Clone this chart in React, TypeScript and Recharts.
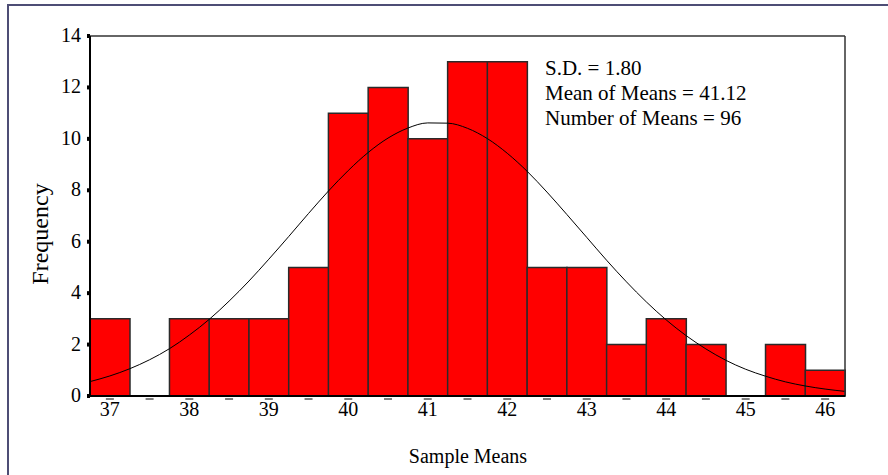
import React from 'react';
import { ComposedChart, Bar, Line, XAxis, YAxis, ReferenceLine } from 'recharts';

const binCenters = [37, 37.5, 38, 38.5, 39, 39.5, 40, 40.5, 41, 41.5, 42, 42.5, 43, 43.5, 44, 44.5, 45, 45.5, 46];
const frequencies = [3, 0, 3, 3, 3, 5, 11, 12, 10, 13, 13, 5, 5, 2, 3, 2, 0, 2, 1];

const curveX = [36.75, 37, 37.25, 37.5, 37.75, 38, 38.25, 38.5, 38.75, 39, 39.25, 39.5, 39.75, 40, 40.25, 40.5, 40.75, 41, 41.25, 41.5, 41.75, 42, 42.25, 42.5, 42.75, 43, 43.25, 43.5, 43.75, 44, 44.25, 44.5, 44.75, 45, 45.25, 45.5, 45.75, 46, 46.25];
const curveY = [0.56, 0.78, 1.06, 1.41, 1.84, 2.37, 2.98, 3.69, 4.47, 5.32, 6.2, 7.1, 7.97, 8.77, 9.47, 10.03, 10.42, 10.62, 10.61, 10.41, 10.01, 9.44, 8.74, 7.93, 7.06, 6.17, 5.28, 4.44, 3.66, 2.96, 2.35, 1.83, 1.39, 1.04, 0.77, 0.55, 0.39, 0.27, 0.18];

const yTicks = [0, 2, 4, 6, 8, 10, 12, 14];
const statLines = ['S.D. = 1.80', 'Mean of Means = 41.12', 'Number of Means = 96'];
const xTitle = 'Sample Means';
const yTitle = 'Frequency';

const barData = binCenters.map((c, i) => ({ bin: String(c), freq: frequencies[i] }));
const curveData = curveX.map((x, i) => ({ x, y: curveY[i] }));

const FONT = '"Liberation Serif", "DejaVu Serif", serif';

const XTick = (props: any) => {
  const { x, y, payload } = props;
  const v = Number(payload.value);
  const isInt = Math.abs(v - Math.round(v)) < 1e-9;
  return (
    <g>
      <line x1={x - 4} x2={x + 4} y1={y + 3} y2={y + 3} stroke="#000" strokeWidth={1} />
      {isInt && (
        <text x={x} y={y + 20} textAnchor="middle" fontFamily={FONT} fontSize={20} fill="#000">
          {payload.value}
        </text>
      )}
    </g>
  );
};

const YTick = (props: any) => {
  const { x, y, payload } = props;
  return (
    <g>
      <rect x={x - 3} y={y - 2} width={3} height={4} fill="#000" />
      <text x={x - 9} y={y + 6} textAnchor="end" fontFamily={FONT} fontSize={20} fill="#000">
        {payload.value}
      </text>
    </g>
  );
};

export default function App() {
  return (
    <div style={{ position: 'absolute', left: 0, top: 0, width: 888, height: 475, background: '#fff', overflow: 'hidden' }}>
      <div
        style={{
          position: 'absolute',
          left: 7,
          top: 4,
          width: 900,
          height: 500,
          borderLeft: '2px solid #4d4d75',
          borderTop: '2px solid #4d4d75',
        }}
      />
      <div style={{ position: 'absolute', left: 0, top: 0 }}>
        <ComposedChart
          width={888}
          height={475}
          data={barData}
          margin={{ top: 36, right: 43, bottom: 49, left: 30 }}
          barCategoryGap={0}
          barGap={0}
        >
          <XAxis
            dataKey="bin"
            xAxisId="bins"
            type="category"
            height={30}
            interval={0}
            tickSize={0}
            tickMargin={0}
            tick={<XTick />}
            axisLine={{ stroke: '#000', strokeWidth: 2 }}
            tickLine={false}
          />
          <XAxis
            dataKey="x"
            xAxisId="curve"
            type="number"
            domain={[36.75, 46.25]}
            allowDataOverflow
            hide
          />
          <YAxis
            width={60}
            domain={[0, 14]}
            ticks={yTicks}
            interval={0}
            tickSize={0}
            tickMargin={0}
            tick={<YTick />}
            tickLine={false}
            axisLine={{ stroke: '#000', strokeWidth: 2 }}
          />
          <Bar
            dataKey="freq"
            xAxisId="bins"
            fill="#ff0000"
            stroke="#2a2a2a"
            strokeWidth={1.5}
            isAnimationActive={false}
          />
          <Line
            data={curveData}
            dataKey="y"
            xAxisId="curve"
            type="monotone"
            stroke="#000"
            strokeWidth={1}
            dot={false}
            activeDot={false}
            isAnimationActive={false}
          />
          <ReferenceLine y={14} xAxisId="bins" stroke="#333" strokeWidth={1.5} />
          <ReferenceLine x={46.25} xAxisId="curve" stroke="#333" strokeWidth={1.5} />
        </ComposedChart>
      </div>
      <div
        style={{
          position: 'absolute',
          left: 40,
          top: 234,
          transform: 'translate(-50%, -50%) rotate(-90deg)',
          fontFamily: FONT,
          fontSize: 24,
          whiteSpace: 'nowrap',
          color: '#000',
        }}
      >
        {yTitle}
      </div>
      <div
        style={{
          position: 'absolute',
          left: 468,
          top: 456,
          transform: 'translate(-50%, -50%)',
          fontFamily: FONT,
          fontSize: 20,
          whiteSpace: 'nowrap',
          color: '#000',
        }}
      >
        {xTitle}
      </div>
      <div
        style={{
          position: 'absolute',
          left: 545,
          top: 56,
          fontFamily: FONT,
          fontSize: 21,
          lineHeight: '25px',
          whiteSpace: 'nowrap',
          color: '#000',
        }}
      >
        {statLines.map((s) => (
          <div key={s}>{s}</div>
        ))}
      </div>
    </div>
  );
}
